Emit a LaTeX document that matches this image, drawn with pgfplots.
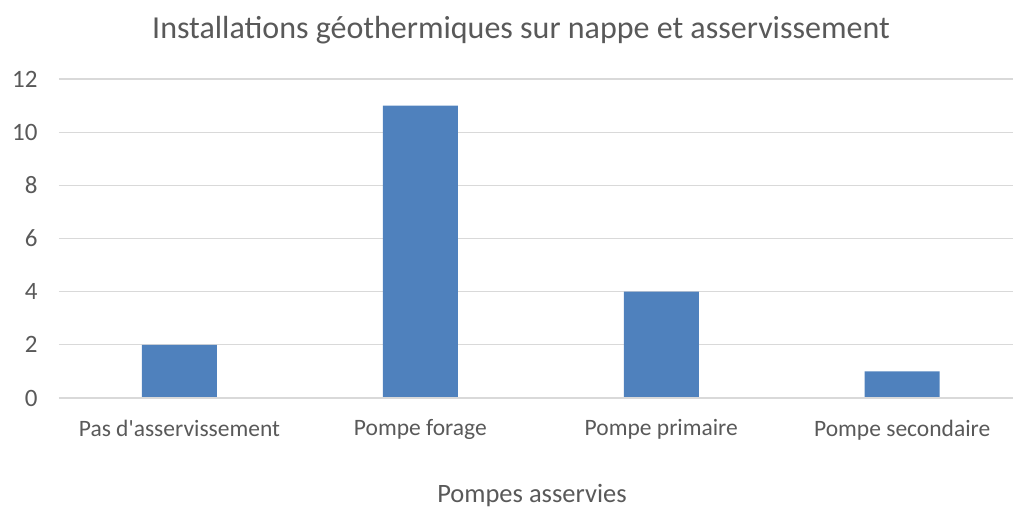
\documentclass[border=0pt]{standalone}
\usepackage{pgfplots}
\pgfplotsset{compat=1.18}
\usepackage{fontspec}
\setmainfont{Carlito}
\definecolor{barblue}{HTML}{4F81BD}
\definecolor{txt}{HTML}{595959}
\definecolor{gridgray}{HTML}{D9D9D9}
\begin{document}
\begin{tikzpicture}[x=1pt,y=1pt]
\useasboundingbox (0,0) rectangle (1014,508);
\begin{axis}[
  at={(59pt,110pt)}, anchor=south west,
  scale only axis, width=954pt, height=319pt,
  xmin=-0.5, xmax=3.46, ymin=0, ymax=12,
  ytick={0,2,...,12},
  xtick={0,1,2,3},
  xticklabels={Pas d\textquotesingle asservissement,Pompe forage,Pompe primaire,Pompe secondaire},
  axis line style={draw=none},
  ymajorgrids, xmajorgrids=false, grid style={draw=gridgray, line width=1.3pt},
  tick style={draw=none},
  ticklabel style={text=txt, font=\fontsize{23.5}{26}\selectfont},
  yticklabel style={font=\fontsize{25}{28}\selectfont},
  /pgf/number format/assume math mode=true,
  yticklabel style={xshift=-18pt},
  xticklabel style={yshift=-14pt},
  ybar, bar width=75pt,
  clip=false,
]
\addplot[fill=barblue, draw=none] coordinates {(0,2) (1,11) (2,4) (3,1)};
\draw[gridgray, line width=1.3pt] (axis cs:-0.5,0) -- (axis cs:3.46,0);
\end{axis}
\node[text=txt, font=\fontsize{32}{36}\selectfont, anchor=center] at (521,478) {Installations géothermiques sur nappe et asservissement};
\node[text=txt, font=\fontsize{26.5}{30}\selectfont, anchor=center] at (532,12) {Pompes asservies};
\end{tikzpicture}
\end{document}
